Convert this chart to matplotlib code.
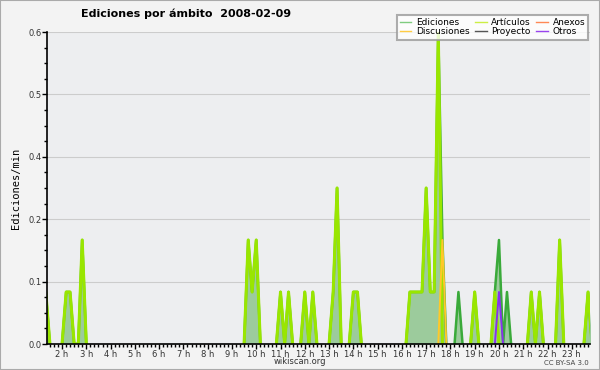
import numpy as np
import matplotlib
matplotlib.use("Agg")
import matplotlib.pyplot as plt
from matplotlib.ticker import MultipleLocator, FixedLocator

# 10-minute bins (hour of day) where something happened, values in edits/min
bin_hours = [1.33, 2.17, 2.33, 2.83, 9.67, 9.83, 10.0, 11.0, 11.33, 12.0, 12.33,
             13.17, 13.33, 14.0, 14.17, 16.33, 16.5, 16.67, 16.83, 17.0, 17.17,
             17.33, 17.5, 17.67, 18.33, 19.0, 19.83, 20.0, 20.33, 21.33, 21.67,
             22.5, 23.67]
ediciones = [0.1, 0.1, 0.1, 0.2, 0.2, 0.1, 0.2, 0.1, 0.1, 0.1, 0.1,
             0.1, 0.3, 0.1, 0.1, 0.1, 0.1, 0.1, 0.1, 0.3, 0.1,
             0.1, 0.6, 0.2, 0.1, 0.1, 0.1, 0.2, 0.1, 0.1, 0.1,
             0.2, 0.1]
articulos = [0.1, 0.1, 0.1, 0.2, 0.2, 0.1, 0.2, 0.1, 0.1, 0.1, 0.1,
             0.1, 0.3, 0.1, 0.1, 0.1, 0.1, 0.1, 0.1, 0.3, 0.1,
             0.1, 0.6, 0.0, 0.0, 0.1, 0.1, 0.0, 0.0, 0.1, 0.1,
             0.2, 0.1]
discusiones = {17.67: 0.2}
otros = {20.0: 0.1}

legend_labels = ["Ediciones", "Discusiones", "Artículos", "Proyecto", "Anexos", "Otros"]
hour_ticks = list(range(2, 24))

# full 10-min timeline
t = np.round(np.arange(8, 145) / 6, 2)
def series(hours, vals):
    s = np.zeros(len(t))
    for h, v in zip(hours, vals):
        s[np.argmin(np.abs(t - h))] = v
    return s

def hide_flat(s):
    # don't draw the line along the zero baseline
    nz = s > 0
    keep = nz | np.r_[nz[1:], False] | np.r_[False, nz[:-1]]
    return np.where(keep, s, np.nan)

ed = series(bin_hours, ediciones)
ar = series(bin_hours, articulos)
di = series(list(discusiones), list(discusiones.values()))
ot = series(list(otros), list(otros.values()))

fig = plt.figure(figsize=(6, 3.7), dpi=100, facecolor="#f3f3f3")
ax = fig.add_axes([47/600, 1-344/370, 543/600, 312/370])
ax.set_facecolor("#edeef0")

ax.fill_between(t, ed, color="#9ccb9c", lw=0)
ax.plot(t, hide_flat(ed), color="#3aaa3a", lw=1.8, solid_joinstyle="round")
ax.plot(t, hide_flat(ar), color="#99e600", lw=2.2, solid_joinstyle="round")
ax.plot(t, hide_flat(di), color="#ffc829", lw=1.4)
ax.plot(t, hide_flat(ot), color="#8833ee", lw=1.4)

ax.set_xlim(1.38, 23.75)
ax.set_ylim(0, 0.6)
ax.yaxis.set_major_locator(FixedLocator([0, 0.12, 0.24, 0.36, 0.48, 0.6]))
ax.set_yticklabels(["0.0", "0.1", "0.2", "0.4", "0.5", "0.6"])
ax.yaxis.set_minor_locator(MultipleLocator(0.03))
ax.xaxis.set_major_locator(FixedLocator(hour_ticks))
ax.set_xticklabels([f"{h} h" for h in hour_ticks])
ax.xaxis.set_minor_locator(MultipleLocator(1/6))
ax.grid(axis="y", color="#cccccc", lw=0.8)
ax.set_axisbelow(True)
for s in ["top", "right"]:
    ax.spines[s].set_visible(False)
ax.spines["left"].set_linewidth(1.2)
ax.spines["bottom"].set_linewidth(1.2)
ax.spines["left"].set_zorder(5)
ax.spines["bottom"].set_zorder(5)
ax.tick_params(axis="both", which="major", length=3.5, width=1, labelsize=6,
               labelcolor="#333333", pad=0.5)
ax.tick_params(axis="both", which="minor", length=2.5, width=1)
ax.set_ylabel("Ediciones/min", family="DejaVu Sans Mono", fontsize=7.5, labelpad=5)

fig.text(0.31, 0.962, "Ediciones por ámbito  2008-02-09", ha="center", va="center",
         fontsize=8, fontweight="bold")
fig.text(0.5, 0.022, "wikiscan.org", ha="center", va="center", fontsize=6, color="#333333")
fig.text(0.982, 0.019, "CC BY-SA 3.0", ha="right", va="center", fontsize=5, color="#444444")

colors = ["#7fcc7f", "#ffcc44", "#ccee44", "#555555", "#ff8855", "#9944ee"]
handles = [plt.Line2D([], [], color=c, lw=1) for c in colors]
leg = fig.legend(handles, legend_labels, ncol=3, loc="upper right",
                 bbox_to_anchor=(0.988, 0.972), fontsize=6.5, frameon=True, fancybox=False,
                 handlelength=1.3, handletextpad=0.5, columnspacing=0.6,
                 labelspacing=0.05, borderpad=0.35, edgecolor="#999999")
leg.get_frame().set_linewidth(1.5)

border = plt.Rectangle((0, 0), 1, 1, transform=fig.transFigure, fill=False,
                       edgecolor="#aaaaaa", lw=1.5)
fig.patches.append(border)

fig.savefig("out.png", dpi=100, facecolor=fig.get_facecolor())
